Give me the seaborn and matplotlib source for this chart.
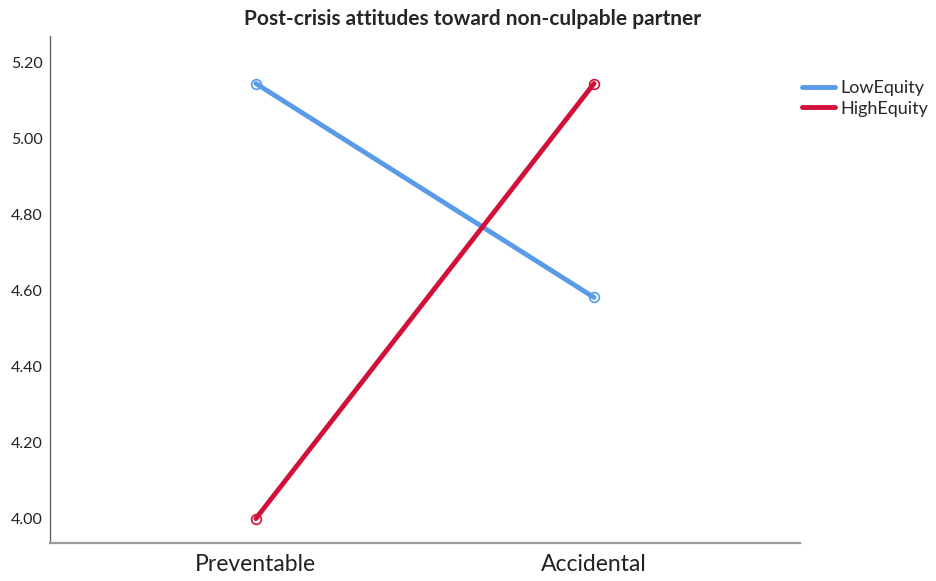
import matplotlib
matplotlib.use("Agg")
import matplotlib.pyplot as plt
from matplotlib.lines import Line2D
import seaborn as sns
import pandas as pd

categories = ["Preventable", "Accidental"]
groups = ["LowEquity", "HighEquity"]
low_equity = [5.145, 4.582]
high_equity = [4.00, 5.145]
yticks = [4.00, 4.20, 4.40, 4.60, 4.80, 5.00, 5.20]
colors = {"LowEquity": "#5A9BE8", "HighEquity": "#D2113A"}

df = pd.DataFrame({
    "crisis": categories * 2,
    "score": low_equity + high_equity,
    "group": [groups[0]] * 2 + [groups[1]] * 2,
})
df["x"] = df["crisis"].map({c: i for i, c in enumerate(categories)})

sns.set_style("white")
plt.rcParams["font.family"] = ["Lato", "DejaVu Sans"]

fig = plt.figure(figsize=(9.36, 5.81), dpi=100)
ax = fig.add_axes([0.053, 0.065, 0.802, 0.873])

sns.lineplot(data=df, x="x", y="score", hue="group", palette=colors, sort=False,
             linewidth=3.5, marker="o", markersize=7, markerfacecolor="none",
             markeredgewidth=1.2, legend=False, ax=ax)
# marker edges should follow line colour
for line in ax.get_lines():
    line.set_markeredgecolor(line.get_color())

ax.set_xlim(-0.61, 1.61)
ax.set_ylim(3.935, 5.27)
ax.set_xticks(range(len(categories)))
ax.set_xticklabels(categories, fontsize=16.5)
ax.set_yticks(yticks)
ax.set_yticklabels([f"{v:.2f}" for v in yticks], fontsize=11.5)
ax.set_xlabel("")
ax.set_ylabel("")
ax.tick_params(axis="y", length=0, pad=5, colors="#222222")
ax.tick_params(axis="x", length=0, pad=8, colors="#222222")

for s in ["top", "right"]:
    ax.spines[s].set_visible(False)
ax.spines["left"].set_color("#666666")
ax.spines["left"].set_linewidth(1)
ax.spines["bottom"].set_color("#999999")
ax.spines["bottom"].set_linewidth(1.6)

fig.suptitle("Post-crisis attitudes toward non-culpable partner", fontsize=15,
             fontweight="bold", x=0.505, y=0.985, va="top")

handles = [Line2D([0], [0], color=colors[g], linewidth=3.5) for g in groups]
fig.legend(handles, groups, loc="upper left", bbox_to_anchor=(0.84, 0.89),
           frameon=False, fontsize=13, handlelength=1.8, handletextpad=0.3,
           labelspacing=0.25)

fig.savefig("out.png", dpi=100)
